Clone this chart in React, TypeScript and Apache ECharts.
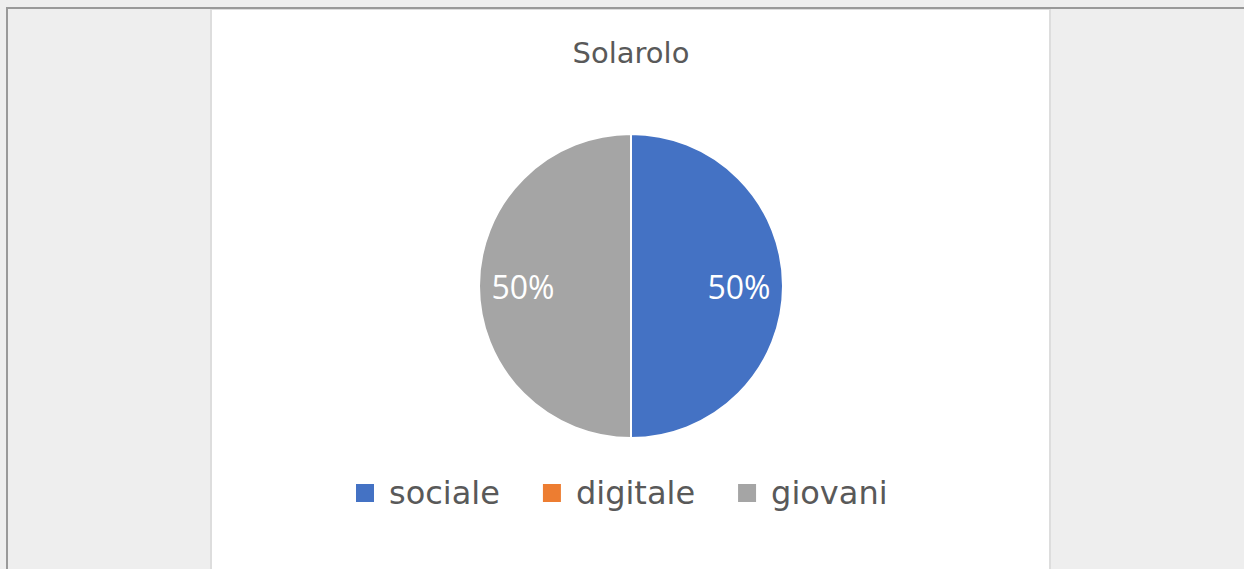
import React, { useEffect, useRef } from "react";
import * as echarts from "echarts";

const title = "Solarolo";
const categories = ["sociale", "digitale", "giovani"];
const values = [50, 0, 50];
const colors = ["#4472C4", "#ED7D31", "#A5A5A5"];

export default function App() {
  const ref = useRef<HTMLDivElement>(null);
  useEffect(() => {
    if (!ref.current) return;
    const chart = echarts.init(ref.current, undefined, { renderer: "svg" });
    const data = categories.map((c, i) => ({ name: c, value: values[i] }));
    const font = "'DejaVu Sans', 'Open Sans', sans-serif";
    const labelFont = "'Open Sans', 'Noto Sans', sans-serif";
    chart.setOption({
      animation: false,
      color: colors,
      title: {
        text: title,
        left: 631,
        textAlign: "center",
        top: 38,
        padding: 0,
        textStyle: { fontFamily: font, fontSize: 29, fontWeight: "normal", color: "#595959" },
      },
      legend: {
        data: categories,
        left: 354,
        top: 477,
        padding: 0,
        icon: "rect",
        itemWidth: 20,
        itemHeight: 20,
        itemGap: 41,
        selectedMode: false,
        textStyle: { fontFamily: font, fontSize: 32, color: "#595959", padding: [0, 0, 0, 9] },
      },
      series: [
        {
          type: "pie",
          center: [631, 286],
          radius: [0, 152],
          startAngle: 90,
          clockwise: true,
          data,
          label: { show: false },
          labelLine: { show: false },
          itemStyle: { borderColor: "#ffffff", borderWidth: 2 },
          emphasis: { disabled: true },
        },
        {
          type: "pie",
          center: [631, 286],
          radius: [58, 152],
          startAngle: 90,
          clockwise: true,
          silent: true,
          data,
          itemStyle: { color: "rgba(0,0,0,0)" },
          labelLine: { show: false },
          label: {
            show: true,
            position: "inside",
            fontFamily: labelFont,
            fontSize: 32,
            color: "#ffffff",
            formatter: (p: any) => (p.value ? Math.round(p.percent) + "%" : ""),
          },
          emphasis: { disabled: true },
        },
      ],
    });
    return () => chart.dispose();
  }, []);

  return (
    <div
      style={{
        position: "fixed",
        left: 0,
        top: 0,
        width: 1244,
        height: 569,
        background: "#eeeeee",
        overflow: "hidden",
      }}
    >
      <div
        style={{
          position: "absolute",
          left: 6,
          top: 7,
          width: 1238,
          height: 562,
          borderTop: "2px solid #999999",
          borderLeft: "2px solid #999999",
          boxSizing: "border-box",
        }}
      />
      <div
        style={{
          position: "absolute",
          left: 210,
          top: 9,
          width: 841,
          height: 560,
          background: "#ffffff",
          borderLeft: "2px solid #dddddd",
          borderRight: "2px solid #dddddd",
          borderTop: "1px solid #dddddd",
          boxSizing: "border-box",
        }}
      />
      <div ref={ref} style={{ position: "absolute", left: 0, top: 0, width: 1244, height: 569 }} />
    </div>
  );
}
